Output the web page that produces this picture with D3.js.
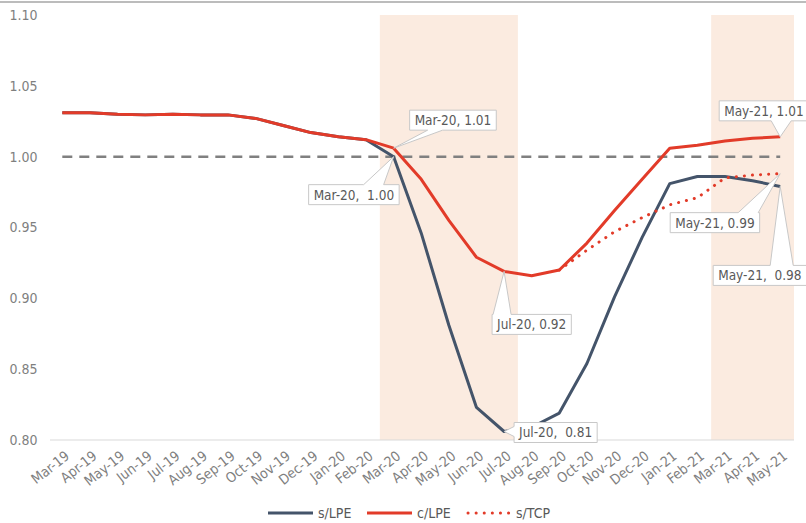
<!DOCTYPE html>
<html>
<head>
<meta charset="utf-8">
<script src="https://cdn.jsdelivr.net/npm/d3@7"></script>
<style>
  body { margin: 0; background: #fff; }
  svg { font-family: "Liberation Sans Narrow", "DejaVu Sans Condensed", "Roboto", sans-serif; }
</style>
</head>
<body>
<svg id="chart" width="806" height="523"></svg>
<script>
// months on the x axis
const months = ["Mar-19","Apr-19","May-19","Jun-19","Jul-19","Aug-19","Sep-19","Oct-19","Nov-19","Dec-19",
  "Jan-20","Feb-20","Mar-20","Apr-20","May-20","Jun-20","Jul-20","Aug-20","Sep-20","Oct-20","Nov-20",
  "Dec-20","Jan-21","Feb-21","Mar-21","Apr-21","May-21"];

const sLPE = [1.031,1.031,1.030,1.0295,1.030,1.0295,1.0295,1.027,1.022,1.017,1.014,1.012,
  1.000,0.946,0.881,0.823,0.806,0.809,0.819,0.854,0.901,0.943,0.981,0.986,0.986,0.983,0.979];

const cLPE = [1.031,1.031,1.030,1.0295,1.030,1.0295,1.0295,1.027,1.022,1.017,1.014,1.012,
  1.006,0.984,0.955,0.929,0.919,0.916,0.920,0.939,0.962,0.984,1.006,1.008,1.011,1.013,1.014];

const sTCP = [null,null,null,null,null,null,null,null,null,null,null,null,
  null,null,null,null,null,null,0.920,0.934,0.947,0.957,0.966,0.971,0.985,0.987,0.988];

const baseline = 1.00;
const yTicks = [0.80,0.85,0.90,0.95,1.00,1.05,1.10];

// shaded periods [from, to]
const shaded = [["Mar-20","Jul-20"],["Mar-21","May-21"]];

// data labels: series, month, text
const labels = [
  { series: "c", month: "Mar-20", text: "Mar-20, 1.01" },
  { series: "s", month: "Mar-20", text: "Mar-20,  1.00" },
  { series: "c", month: "Jul-20", text: "Jul-20, 0.92" },
  { series: "s", month: "Jul-20", text: "Jul-20,  0.81" },
  { series: "c", month: "May-21", text: "May-21, 1.01" },
  { series: "t", month: "May-21", text: "May-21, 0.99" },
  { series: "s", month: "May-21", text: "May-21,  0.98" }
];
// callout layout: box left/top offset from point, pointer side, pointer base offsets
const calloutLayout = [
  { dx: 16, dy: -38, side: "bottom", b: [18, 33] },
  { dx: -85, dy: 28, side: "top", b: [55, 75] },
  { dx: -12, dy: 43, side: "top", b: [1, 19] },
  { dx: 10, dy: -9, side: "left", b: [4, 14] },
  { dx: -61, dy: -36, side: "bottom", b: [52, 72] },
  { dx: -110, dy: 39, side: "top", b: [68, 88] },
  { dx: -67, dy: 79, side: "top", b: [57, 80] }
];

const red = "#e23b29", slate = "#44546a";
const fs = 13.5;

const svg = d3.select("#chart");

const x = d3.scaleBand().domain(months).range([48.5, 794]).padding(0);
const cx = m => x(m) + x.bandwidth() / 2;
const y = d3.scaleLinear().domain([0.80, 1.10]).range([440, 15]);

// top border
svg.append("line").attr("x1", 0).attr("x2", 806).attr("y1", 2).attr("y2", 2)
  .attr("stroke", "#a6a6a6").attr("stroke-width", 1.5);

// shaded bands
svg.selectAll("rect.band").data(shaded).enter().append("rect")
  .attr("class", "band")
  .attr("x", d => x(d[0]))
  .attr("width", d => x(d[1]) + x.bandwidth() - x(d[0]))
  .attr("y", y(1.10))
  .attr("height", y(0.80) - y(1.10))
  .attr("fill", "#fbebe0");

// axis line
svg.append("line").attr("x1", 50).attr("x2", 794).attr("y1", y(0.80)).attr("y2", y(0.80))
  .attr("stroke", "#d9d9d9").attr("stroke-width", 1);

// y labels
svg.selectAll("text.ytick").data(yTicks).enter().append("text")
  .attr("class", "ytick")
  .attr("x", 37.5).attr("y", d => y(d)).attr("dy", "0.35em")
  .attr("text-anchor", "end")
  .attr("font-size", 14).attr("fill", "#7f7f7f")
  .text(d => d.toFixed(2));

// x labels
svg.selectAll("text.xtick").data(months).enter().append("text")
  .attr("class", "xtick")
  .attr("transform", d => `translate(${cx(d) + 5},${454}) rotate(-38)`)
  .attr("text-anchor", "end")
  .attr("dy", "0.35em")
  .attr("font-size", 14).attr("fill", "#7f7f7f")
  .text(d => d);

// dashed 1.00 line
svg.append("line")
  .attr("x1", cx(months[0])).attr("x2", cx(months[months.length - 1]))
  .attr("y1", y(baseline)).attr("y2", y(baseline))
  .attr("stroke", "#808080").attr("stroke-width", 2.5)
  .attr("stroke-dasharray", "10,7");

const line = d3.line()
  .defined(d => d.v !== null)
  .x(d => cx(d.m)).y(d => y(d.v));

const toPts = arr => months.map((m, i) => ({ m: m, v: arr[i] }));

svg.append("path").datum(toPts(sLPE)).attr("d", line)
  .attr("fill", "none").attr("stroke", slate).attr("stroke-width", 3)
  .attr("stroke-linejoin", "round");
svg.append("path").datum(toPts(cLPE)).attr("d", line)
  .attr("fill", "none").attr("stroke", red).attr("stroke-width", 3)
  .attr("stroke-linejoin", "round");
svg.append("path").datum(toPts(sTCP)).attr("d", line)
  .attr("fill", "none").attr("stroke", red).attr("stroke-width", 3)
  .attr("stroke-dasharray", "0.1,8").attr("stroke-linecap", "round");

// callouts
const seriesVals = { s: sLPE, c: cLPE, t: sTCP };

function calloutPath(x0, y0, x1, y1, side, b0, b1, ax, ay) {
  if (side === "top")
    return `M${x0},${y0}L${b0},${y0}L${ax},${ay}L${b1},${y0}L${x1},${y0}L${x1},${y1}L${x0},${y1}Z`;
  if (side === "bottom")
    return `M${x0},${y0}L${x1},${y0}L${x1},${y1}L${b1},${y1}L${ax},${ay}L${b0},${y1}L${x0},${y1}Z`;
  // left
  return `M${x0},${y0}L${x1},${y0}L${x1},${y1}L${x0},${y1}L${x0},${b1}L${ax},${ay}L${x0},${b0}Z`;
}

labels.forEach((lab, i) => {
  const L = calloutLayout[i];
  const idx = months.indexOf(lab.month);
  const px = cx(lab.month), py = y(seriesVals[lab.series][idx]);
  const g = svg.append("g");
  const t = g.append("text")
    .attr("font-size", fs).attr("fill", "#595959")
    .style("white-space", "pre")
    .text(lab.text);
  const w = t.node().getComputedTextLength() + 10;
  const h = 20;
  const x0 = px + L.dx, y0 = py + L.dy, x1 = x0 + w, y1 = y0 + h;
  let b0, b1;
  if (L.side === "left") { b0 = y0 + L.b[0]; b1 = y0 + L.b[1]; }
  else { b0 = x0 + L.b[0]; b1 = x0 + L.b[1]; }
  g.insert("path", "text")
    .attr("d", calloutPath(x0, y0, x1, y1, L.side, b0, b1, px, py))
    .attr("fill", "#fff").attr("stroke", "#c8c8c8").attr("stroke-width", 1);
  t.attr("x", x0 + 5).attr("y", y0 + h / 2).attr("dy", "0.36em");
});

// legend
const legendItems = [
  { name: "s/LPE", color: slate, dash: null },
  { name: "c/LPE", color: red, dash: null },
  { name: "s/TCP", color: red, dash: "0.1,8" }
];
const lg = svg.selectAll("g.leg").data(legendItems).enter().append("g")
  .attr("class", "leg")
  .attr("transform", (d, i) => `translate(${268 + i * 99},513)`);
lg.append("line").attr("x1", d => d.dash ? 2 : 0).attr("x2", 45)
  .attr("stroke", d => d.color).attr("stroke-width", 3)
  .attr("stroke-dasharray", d => d.dash)
  .attr("stroke-linecap", d => d.dash ? "round" : "butt");
lg.append("text").attr("x", 50).attr("dy", "0.35em")
  .attr("font-size", 14).attr("fill", "#595959")
  .text(d => d.name);
</script>
</body>
</html>
